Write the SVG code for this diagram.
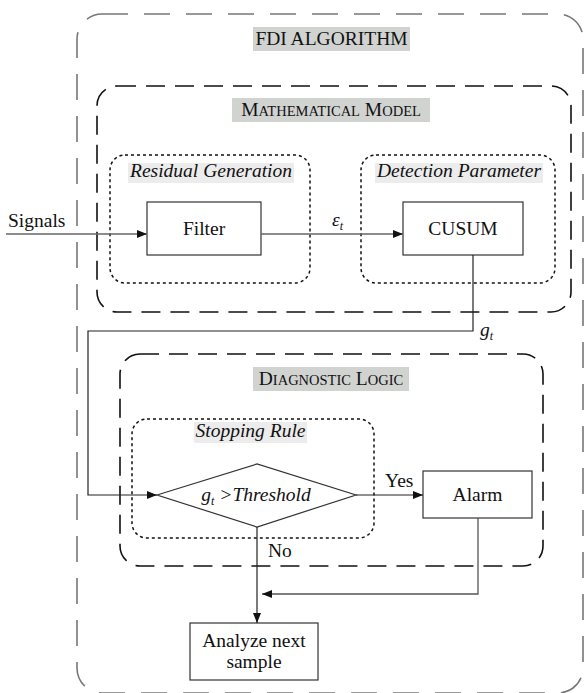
<svg xmlns="http://www.w3.org/2000/svg" width="584" height="693" viewBox="0 0 584 693">
<defs>
<style>
.t{font-family:"Liberation Serif","Times New Roman",serif;font-size:19.5px;fill:#111}
.i{font-style:italic}
.outer{fill:none;stroke:#777;stroke-width:1.6;stroke-dasharray:26 16}
.dash{fill:none;stroke:#111;stroke-width:1.6;stroke-dasharray:19 10}
.dot{fill:none;stroke:#111;stroke-width:1.5;stroke-dasharray:3 3}
.box{fill:#fff;stroke:#333;stroke-width:1.2}
.hl{fill:#d1d3d1}
.hl2{fill:#ececec}
.ln{fill:none;stroke:#222;stroke-width:1.2}
.lg{fill:none;stroke:#666;stroke-width:1.6}
</style>
<marker id="ah" viewBox="0 0 10 8" refX="10" refY="4" markerWidth="10" markerHeight="8" markerUnits="userSpaceOnUse" orient="auto">
<path d="M0,0 L10,4 L0,8 z" fill="#111"/>
</marker>
</defs>

<g id="fdi-algorithm">
<rect class="outer" x="77" y="14" width="506" height="679" rx="25"/>
<rect class="hl" x="253" y="27" width="157" height="24"/>
<text class="t" x="331.5" y="45" text-anchor="middle">FDI ALGORITHM</text>
</g>

<g id="mathematical-model">
<rect class="dash" x="97" y="86" width="474" height="226" rx="20"/>
<rect class="hl" x="232" y="98" width="198" height="24"/>
<text class="t" x="331" y="116" text-anchor="middle">M<tspan font-size="14.5">ATHEMATICAL</tspan> M<tspan font-size="14.5">ODEL</tspan></text>
</g>

<g id="residual-generation">
<rect class="dot" x="110" y="155" width="200" height="128" rx="15"/>
<rect class="hl2" x="128" y="163" width="166" height="20"/>
<text class="t i" x="211" y="177" text-anchor="middle">Residual Generation</text>
</g>

<g id="detection-parameter">
<rect class="dot" x="361" y="155" width="194" height="128" rx="15"/>
<rect class="hl2" x="375" y="163" width="168" height="20"/>
<text class="t i" x="459" y="177" text-anchor="middle">Detection Parameter</text>
</g>

<g id="filter">
<rect class="box" x="147" y="202" width="114" height="53"/>
<text class="t" x="204" y="235" text-anchor="middle">Filter</text>
</g>

<g id="cusum">
<rect class="box" x="403" y="202" width="120" height="53"/>
<text class="t" x="463" y="235" text-anchor="middle">CUSUM</text>
</g>

<g id="diagnostic-logic">
<rect class="dash" x="120" y="354" width="423" height="212" rx="20"/>
<rect class="hl" x="253" y="367" width="156" height="24"/>
<text class="t" x="331" y="385" text-anchor="middle">D<tspan font-size="14.5">IAGNOSTIC</tspan> L<tspan font-size="14.5">OGIC</tspan></text>
</g>

<g id="stopping-rule">
<rect class="dot" x="132" y="419" width="242" height="119" rx="15"/>
<rect class="hl2" x="194" y="422" width="113" height="21"/>
<text class="t i" x="250.5" y="437" text-anchor="middle">Stopping Rule</text>
</g>

<g id="decision">
<polygon class="box" points="157,495 257,464 356,495 257,527"/>
<text class="t i" x="256" y="501" text-anchor="middle">g<tspan font-size="12" dy="4">t</tspan><tspan dy="-4"> &gt;Threshold</tspan></text>
</g>

<g id="alarm">
<rect class="box" x="423" y="471" width="109" height="47"/>
<text class="t" x="477.5" y="501" text-anchor="middle">Alarm</text>
</g>

<g id="analyze">
<rect class="box" x="190" y="623" width="128" height="57"/>
<text class="t" x="254" y="647" text-anchor="middle">Analyze next</text>
<text class="t" x="254" y="668" text-anchor="middle">sample</text>
</g>

<g id="connectors">
<line class="lg" x1="6" y1="234" x2="147" y2="234" marker-end="url(#ah)"/>
<line class="lg" x1="261" y1="234" x2="403" y2="234" marker-end="url(#ah)"/>
<polyline class="ln" points="473,255 473,331 88,331 88,495 157,495" marker-end="url(#ah)"/>
<line class="ln" x1="356" y1="495" x2="423" y2="495" marker-end="url(#ah)"/>
<line class="ln" x1="257" y1="527" x2="257" y2="623" marker-end="url(#ah)"/>
<polyline class="lg" style="stroke:#555;stroke-width:1.3" points="478,518 478,594 262,594" marker-end="url(#ah)"/>
</g>

<g id="labels">
<text class="t" x="8" y="227">Signals</text>
<text class="t i" x="332" y="226">ε<tspan font-size="12" dy="4">t</tspan></text>
<text class="t i" x="480" y="336">g<tspan font-size="12" dy="4">t</tspan></text>
<text class="t" x="385" y="487">Yes</text>
<text class="t" x="268" y="557">No</text>
</g>
</svg>
